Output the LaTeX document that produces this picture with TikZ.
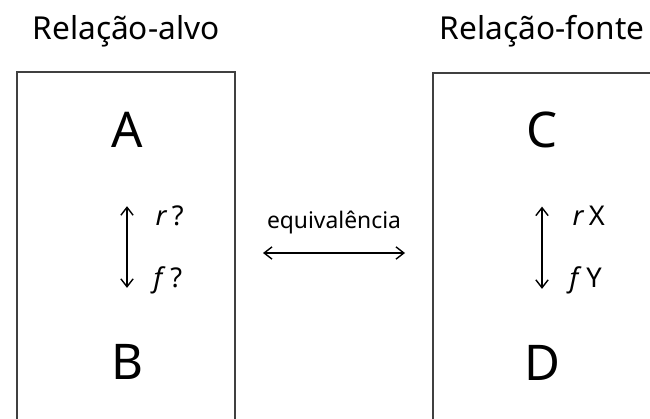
\documentclass[tikz,border=0pt]{standalone}
\usepackage{fontspec}
\setmainfont{Noto Sans}
\usetikzlibrary{arrows.meta}
\begin{document}
\begin{tikzpicture}[>={Straight Barb[length=4.5pt,width=7pt]}, line width=0.8pt,
    titulo/.style={font=\fontsize{18}{21}\selectfont},
    letra/.style={font=\fontsize{28}{31}\selectfont},
    rotulo/.style={font=\fontsize{15.5}{18}\selectfont, anchor=base west, inner sep=0pt}]
\useasboundingbox (0,0) rectangle (13,-8.38);
\clip (0,0) rectangle (13,-8.38);
% caixas
\draw[black!75] (0.34,-8.6) |- (4.7,-1.44) -- (4.7,-8.6);
\draw[black!75] (8.66,-8.6) |- (13.2,-1.46);
% titulos
\node[titulo] (alvo) at (2.52,-0.62) {Relação-alvo};
\node[titulo] (fonte) at (10.84,-0.62) {Relação-fonte};
% letras
\node[letra] (A) at (2.54,-2.6) {A};
\node[letra] (B) at (2.54,-7.24) {B};
\node[letra] (C) at (10.84,-2.6) {C};
\node[letra] (D) at (10.84,-7.26) {D};
\draw[<->, shorten <=1.04cm, shorten >=1.0cm] (A) -- (B);
\draw[<->, shorten <=1.04cm, shorten >=1.0cm] (C) -- (D);
% rotulos
\node[rotulo] (r1) at (3.1,-4.5) {\textit{r}\,?};
\node[rotulo] (f1) at (3.06,-5.74) {\textit{f}\,?};
\node[rotulo] (r2) at (11.44,-4.5) {\textit{r}\,X};
\node[rotulo] (f2) at (11.38,-5.74) {\textit{f}\,Y};
% equivalencia
\node[font=\fontsize{13}{15}\selectfont] (eq) at (6.68,-4.44) {equivalência};
\coordinate (esq) at (5.26,-5.06);
\coordinate (dir) at (8.1,-5.06);
\draw[<->] (esq) -- (dir);
\end{tikzpicture}
\end{document}
